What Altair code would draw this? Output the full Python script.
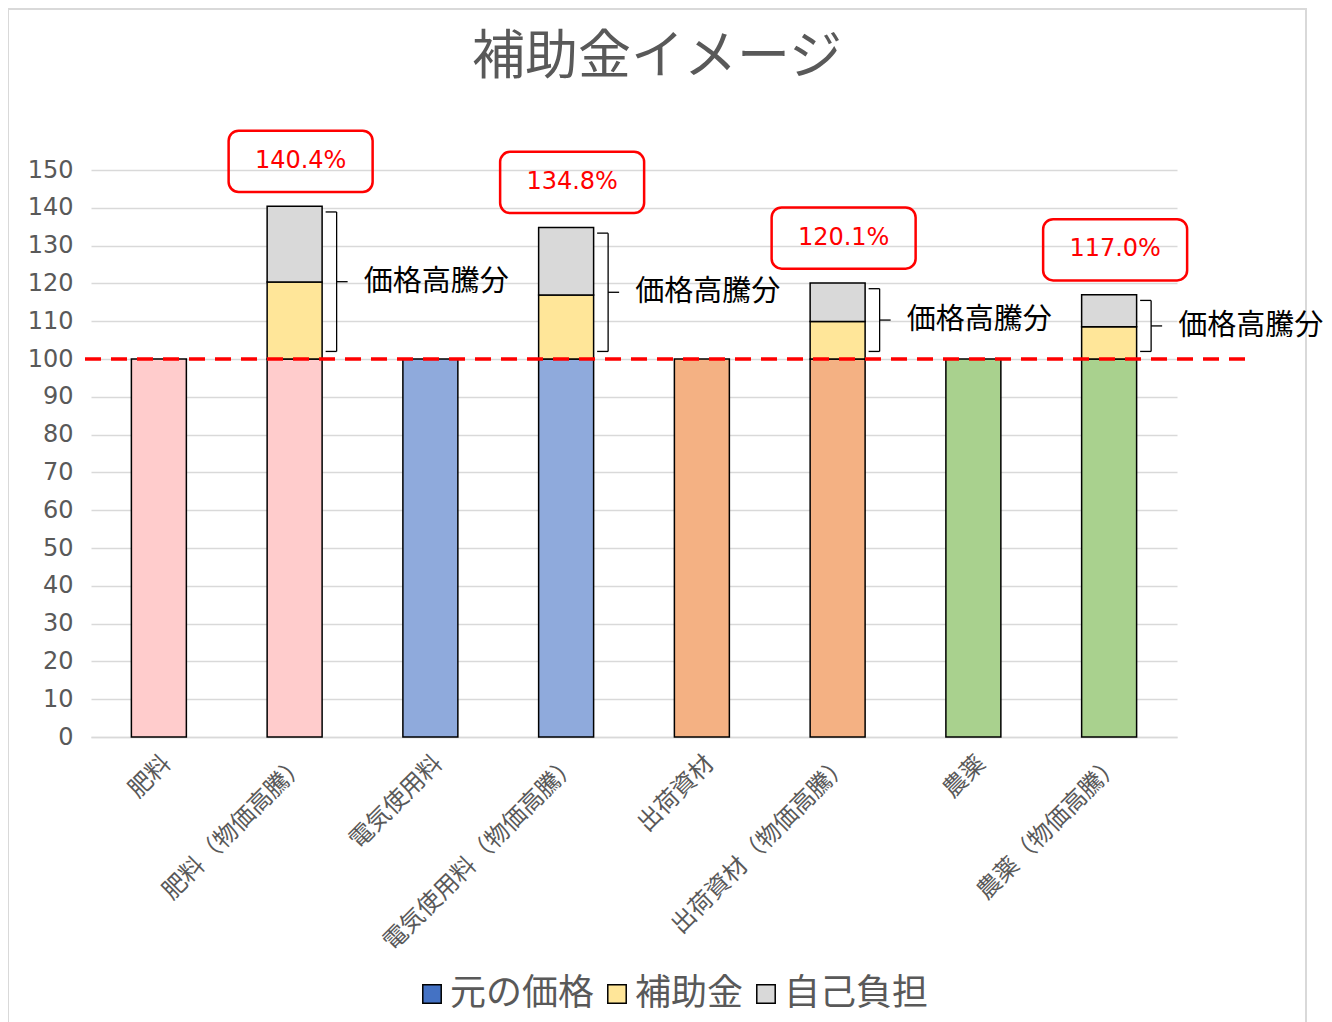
import altair as alt
import pandas as pd

# ---- data ----
title_text = '補助金イメージ'
categories = ['肥料', '肥料（物価高騰）', '電気使用料', '電気使用料（物価高騰）',
              '出荷資材', '出荷資材（物価高騰）', '農薬', '農薬（物価高騰）']
groups = ['肥料', '肥料', '電気', '電気', '出荷', '出荷', '農薬', '農薬']
base_price = [100, 100, 100, 100, 100, 100, 100, 100]
subsidy = [0, 20.4, 0, 16.9, 0, 9.9, 0, 8.5]
self_pay = [0, 20.0, 0, 17.9, 0, 10.2, 0, 8.5]
pct_labels = ['', '140.4%', '', '134.8%', '', '120.1%', '', '117.0%']
bracket_text = '価格高騰分'
baseline = 100
y_ticks = list(range(0, 151, 10))

series_names = ['元の価格', '補助金', '自己負担']
color_domain = series_names + ['肥料', '電気', '出荷', '農薬']
color_range = ['#4472C4', '#FFE699', '#D9D9D9', '#FFCCCC', '#8FAADC', '#F4B183', '#A9D18E']

FONT = 'Noto Sans CJK JP'
NUMFONT = 'DejaVu Sans'
GREY = '#595959'

rows = []
for c, g, b, s, p in zip(categories, groups, base_price, subsidy, self_pay):
    rows.append({'cat': c, 'key': g, 'y0': 0, 'y1': b})
    if s > 0:
        rows.append({'cat': c, 'key': '補助金', 'y0': b, 'y1': b + s})
    if p > 0:
        rows.append({'cat': c, 'key': '自己負担', 'y0': b + s, 'y1': b + s + p})
seg = pd.DataFrame(rows)

ann = []
for c, b, s, p, lab in zip(categories, base_price, subsidy, self_pay, pct_labels):
    if lab:
        t = b + s + p
        ann.append({'cat': c, 'total': t, 'box0': t + 3.8, 'box1': t + 20,
                    'boxmid': t + 12, 'lab': lab,
                    'br0': b + 2, 'br1': t - 1.5, 'brmid': (b + 2 + t - 1.5) / 2,
                    'txt': bracket_text})
ann = pd.DataFrame(ann)

x_scale = alt.Scale(domain=categories, paddingInner=0.595, paddingOuter=0.2975)
y_scale = alt.Scale(domain=[0, 150], nice=False)

x_axis = alt.Axis(title=None, labelAngle=-45, labelFontSize=24, labelColor=GREY,
                  labelFont=FONT, ticks=False, domainColor='#D9D9D9', domainWidth=1.5,
                  labelPadding=14, labelLimit=400)
y_axis = alt.Axis(title=None, values=y_ticks, labelFontSize=24, labelOverlap=False,
                  labelColor=GREY, labelFont=NUMFONT, ticks=False, domain=False,
                  gridColor='#D9D9D9', gridWidth=1.5, labelPadding=18)


def X():
    return alt.X('cat:N', scale=x_scale, sort=categories, axis=x_axis)


def Y(field):
    return alt.Y(field, scale=y_scale, axis=y_axis)


one = pd.DataFrame({'t': [title_text]})

frame = alt.Chart(one).mark_rect(
    fill=None, stroke='#D9D9D9', strokeWidth=2
).encode(x=alt.value(-83), x2=alt.value(1215), y=alt.value(-161), y2=alt.value(870))

title = alt.Chart(one).mark_text(
    fontSize=53, font=FONT, color=GREY, align='center', baseline='middle'
).encode(x=alt.value(566), y=alt.value(-112), text='t:N')

bars = alt.Chart(seg).mark_bar(stroke='black', strokeWidth=1.5).encode(
    x=X(),
    y=Y('y0:Q'),
    y2='y1:Q',
    color=alt.Color('key:N', scale=alt.Scale(domain=color_domain, range=color_range),
                    legend=alt.Legend(values=series_names, title=None, orient='none',
                                      direction='horizontal', legendX=323, legendY=806,
                                      labelFontSize=36, labelColor=GREY, labelFont=FONT,
                                      symbolType='square', symbolSize=340,
                                      symbolStrokeColor='black', symbolStrokeWidth=1.5,
                                      symbolOpacity=1, labelOffset=0, columnPadding=4))
)

dash = alt.Chart(one).mark_rule(
    color='#FF0000', strokeWidth=3.5, strokeDash=[16, 10]
).encode(x=alt.value(-6), x2=alt.value(1154),
         y=alt.datum(baseline, type='quantitative', scale=y_scale, axis=y_axis))

boxes = alt.Chart(ann).mark_bar(
    width=144, cornerRadius=10, fill='white', fillOpacity=0, stroke='#FF0000',
    strokeWidth=2.5, xOffset=6
).encode(x=X(), y=Y('box0:Q'), y2='box1:Q')

box_text = alt.Chart(ann).mark_text(
    color='#FF0000', fontSize=24, font=NUMFONT, baseline='middle', align='center', dx=6
).encode(x=X(), y=Y('boxmid:Q'), text='lab:N')

br_vert = alt.Chart(ann).mark_rule(color='black', strokeWidth=1.3, xOffset=42).encode(
    x=X(), y=Y('br0:Q'), y2='br1:Q')
br_top = alt.Chart(ann).mark_rule(color='black', strokeWidth=1.3, xOffset=31, x2Offset=42).encode(
    x=X(), x2='cat:N', y=Y('br1:Q'))
br_bot = alt.Chart(ann).mark_rule(color='black', strokeWidth=1.3, xOffset=31, x2Offset=42).encode(
    x=X(), x2='cat:N', y=Y('br0:Q'))
br_mid = alt.Chart(ann).mark_rule(color='black', strokeWidth=1.3, xOffset=42, x2Offset=53).encode(
    x=X(), x2='cat:N', y=Y('brmid:Q'))
br_text = alt.Chart(ann).mark_text(
    color='black', fontSize=29, font=FONT, align='left', baseline='middle', dx=69
).encode(x=X(), y=Y('brmid:Q'), text='txt:N')

chart = alt.layer(
    frame, title, bars, dash, boxes, box_text, br_vert, br_top, br_bot, br_mid, br_text
).properties(
    width=1086, height=567,
    background='white',
    autosize=alt.AutoSizeParams(type='none'),
    padding={'left': 83, 'top': 162, 'right': 147, 'bottom': 285}
).configure_view(strokeWidth=0, stroke=None)

chart.save('out.html', embed_options={'renderer': 'svg', 'actions': False})
